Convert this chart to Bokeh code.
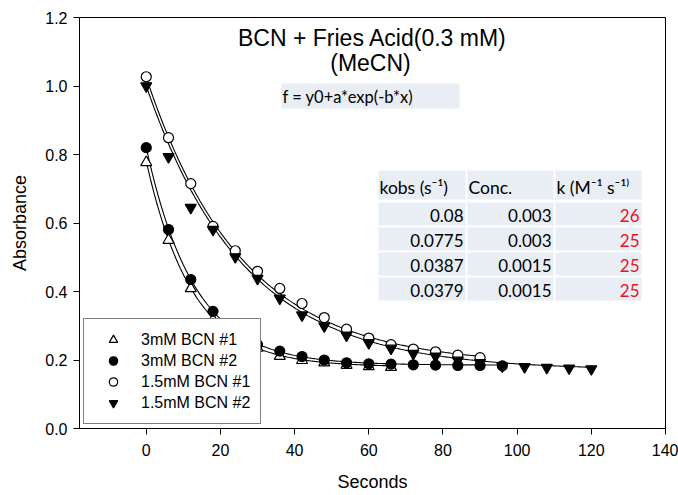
import numpy as np
from bokeh.plotting import figure
from bokeh.models import (Range1d, FixedTicker, PrintfTickFormatter, Label,
                          BoxAnnotation, Legend, LegendItem)
from bokeh.embed import file_html
from bokeh.resources import INLINE

# ---------------- data ----------------
t_3mM_1 = [0, 6, 12, 18, 24, 30, 36, 42, 48, 54, 60, 66]
a_3mM_1 = [0.777, 0.550, 0.409, 0.318, 0.266, 0.235, 0.211, 0.199, 0.192, 0.185, 0.181, 0.179]

t_3mM_2 = [0, 6, 12, 18, 24, 30, 36, 42, 48, 54, 60, 66, 72, 78, 84, 90, 96]
a_3mM_2 = [0.820, 0.581, 0.435, 0.342, 0.280, 0.245, 0.226, 0.210, 0.200, 0.192,
           0.189, 0.188, 0.186, 0.185, 0.184, 0.184, 0.183]

t_15mM_1 = [0, 6, 12, 18, 24, 30, 36, 42, 48, 54, 60, 66, 72, 78, 84, 90]
a_15mM_1 = [1.027, 0.849, 0.715, 0.590, 0.519, 0.459, 0.409, 0.365, 0.324, 0.290,
            0.264, 0.245, 0.232, 0.224, 0.214, 0.207]

t_15mM_2 = [0, 6, 12, 18, 24, 30, 36, 42, 48, 54, 60, 66, 72, 78, 84, 90, 96, 102, 108, 114, 120]
a_15mM_2 = [1.000, 0.793, 0.645, 0.581, 0.501, 0.438, 0.380, 0.331, 0.299, 0.272,
            0.250, 0.234, 0.219, 0.211, 0.199, 0.192, 0.182, 0.180, 0.178, 0.176, 0.174]

series_labels = ["3mM BCN #1", "3mM BCN #2", "1.5mM BCN #1", "1.5mM BCN #2"]

# fit parameters f = y0 + a*exp(-b*x)
fit_y0 = [0.180, 0.185, 0.185, 0.170]
fit_a = [0.600, 0.635, 0.840, 0.830]
fit_b = [0.0800, 0.0775, 0.0387, 0.0379]

# table
tbl_header = ["kobs (s\u207b\u00b9)", "Conc.", "k (M\u207b\u00b9 s\u207b\u00b9\u207e"]
tbl_kobs = ["0.08", "0.0775", "0.0387", "0.0379"]
tbl_conc = ["0.003", "0.003", "0.0015", "0.0015"]
tbl_k = ["26", "25", "25", "25"]

x_ticks = [0, 20, 40, 60, 80, 100, 120, 140]
y_ticks = [0.0, 0.2, 0.4, 0.6, 0.8, 1.0, 1.2]

# ---------------- layout ----------------
W, H = 678, 495
FL, FR, FT, FB = 79, 665, 17, 428
XMIN, XMAX, YMIN, YMAX = -18, 140, 0.0, 1.2


def dx(px):
    return XMIN + (px - FL) / (FR - FL) * (XMAX - XMIN)


def dy(py):
    return YMAX - (py - FT) / (FB - FT) * (YMAX - YMIN)


p = figure(width=W, height=H, x_range=Range1d(XMIN, XMAX), y_range=Range1d(YMIN, YMAX),
           output_backend="svg", toolbar_location=None,
           min_border_left=FL, min_border_right=W - FR, min_border_top=FT,
           min_border_bottom=H - FB)
p.xgrid.visible = False
p.ygrid.visible = False
p.outline_line_color = "black"
p.outline_line_width = 1
p.background_fill_color = "white"
p.border_fill_color = "white"

p.xaxis.ticker = FixedTicker(ticks=x_ticks)
p.yaxis.ticker = FixedTicker(ticks=y_ticks)
p.yaxis.formatter = PrintfTickFormatter(format="%.1f")
for ax in (p.xaxis, p.yaxis):
    ax.axis_line_color = "black"
    ax.axis_line_width = 1
    ax.major_tick_line_color = "black"
    ax.major_tick_in = 0
    ax.major_tick_out = 6
    ax.minor_tick_line_color = None
    ax.major_label_text_font = "Liberation Sans"
    ax.major_label_text_font_size = "16px"
    ax.major_label_text_color = "black"
    ax.axis_label_text_font = "Liberation Sans"
    ax.axis_label_text_font_size = "18px"
    ax.axis_label_text_font_style = "normal"
    ax.axis_label_text_color = "black"
p.xaxis.axis_label = "Seconds"
p.yaxis.axis_label = "Absorbance"
p.xaxis.major_label_standoff = 9
p.xaxis.axis_label_standoff = 13
p.yaxis.major_label_standoff = 6
p.yaxis.axis_label_standoff = 12

# fit curves
ts = [t_3mM_1, t_3mM_2, t_15mM_1, t_15mM_2]
for t, y0, a, b in zip(ts, fit_y0, fit_a, fit_b):
    xx = np.linspace(0, max(t), 300)
    p.line(xx, y0 + a * np.exp(-b * xx), line_color="black", line_width=1.1)

# markers
r1 = p.scatter(t_3mM_1, a_3mM_1, marker="triangle", size=11, fill_color="white",
               line_color="black", line_width=1.2)
r2 = p.scatter(t_3mM_2, a_3mM_2, marker="circle", size=10, fill_color="black",
               line_color="black", line_width=1.2)
r3 = p.scatter(t_15mM_1, a_15mM_1, marker="circle", size=10, fill_color="white",
               line_color="black", line_width=1.2)
r4 = p.scatter(t_15mM_2, a_15mM_2, marker="inverted_triangle", size=11, fill_color="black",
               line_color="black", line_width=1.2)

# title
p.add_layout(Label(x=dx(372), y=dy(37), text="BCN + Fries Acid(0.3 mM)", text_align="center",
                   text_baseline="middle", text_font="Liberation Sans", text_font_size="23px",
                   text_color="black"))
p.add_layout(Label(x=dx(370), y=dy(62), text="(MeCN)", text_align="center",
                   text_baseline="middle", text_font="Liberation Sans", text_font_size="23px",
                   text_color="black"))

# formula box
CELL = "#e9edf4"
p.add_layout(BoxAnnotation(left=dx(281), right=dx(459), top=dy(83), bottom=dy(108),
                           fill_color=CELL, fill_alpha=1, line_color=None))
p.add_layout(Label(x=dx(282), y=dy(96), text="f = y0+a*exp(-b*x)", text_align="left",
                   text_baseline="middle", text_font="Lato", text_font_size="16.5px",
                   text_color="black"))

# table
cols = [(378, 465), (467, 553), (555, 641)]
rows = [(170, 199), (202, 225), (227, 250), (252, 275), (277, 300)]
for (c0, c1) in cols:
    for (r0, r1_) in rows:
        p.add_layout(BoxAnnotation(left=dx(c0), right=dx(c1), top=dy(r0), bottom=dy(r1_),
                                   fill_color=CELL, fill_alpha=1, line_color=None))
for (c0, c1), txt in zip(cols, tbl_header):
    p.add_layout(Label(x=dx(c0 + 1), y=dy(187), text=txt, text_align="left",
                       text_baseline="middle", text_font="Lato", text_font_size="17.5px",
                       text_color="black"))
for i, (r0, r1_) in enumerate(rows[1:]):
    yc = dy((r0 + r1_) / 2 + 1)
    for j, (vals, color) in enumerate([(tbl_kobs, "black"), (tbl_conc, "black"), (tbl_k, "#e8141e")]):
        p.add_layout(Label(x=dx(cols[j][1] - 2), y=yc, text=vals[i], text_align="right",
                           text_baseline="middle", text_font="Lato", text_font_size="17px",
                           text_color=color))

# legend
legend = Legend(items=[LegendItem(label=lab, renderers=[r]) for lab, r in
                       zip(series_labels, [r1, r2, r3, r4])],
                location=(4, 4), margin=0, padding=10, spacing=0,
                glyph_width=38, glyph_height=21, label_height=21, label_standoff=9,
                label_text_font="Liberation Sans", label_text_font_size="16px",
                label_text_color="black",
                border_line_color="black", border_line_width=1.5,
                background_fill_color="white", background_fill_alpha=1)
p.add_layout(legend)

open("out.html", "w").write(file_html(p, INLINE))
